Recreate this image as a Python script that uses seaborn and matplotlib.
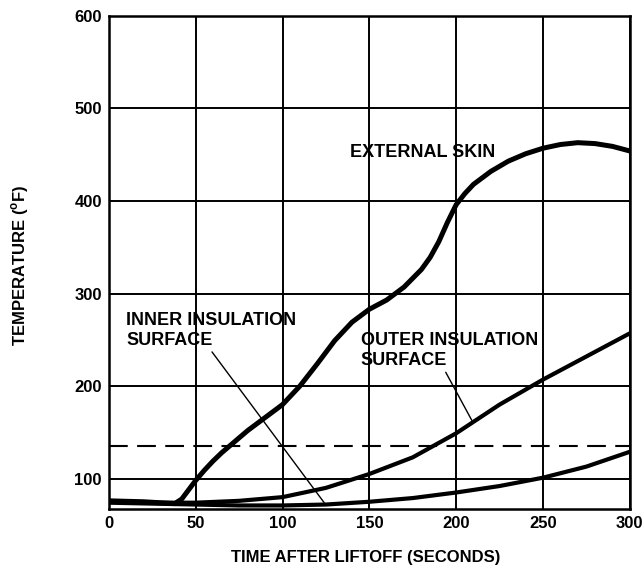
import pandas as pd
import matplotlib
matplotlib.use("Agg")
import matplotlib.pyplot as plt
import seaborn as sns

# %% dados
t_ext = [0, 20, 38, 42, 46, 50, 55, 60, 65, 70, 80, 90, 100, 110, 120, 130, 140, 150,
         160, 170, 180, 185, 190, 195, 200, 205, 210, 220, 230, 240, 250, 260, 270,
         280, 290, 300]
temp_ext = [76, 75, 73, 78, 88, 98, 109, 119, 128, 136, 152, 166, 180, 200, 224, 249,
            269, 283, 293, 307, 326, 339, 356, 377, 396, 408, 418, 432, 443, 451, 457,
            461, 463, 462, 459, 454]

t_ins = [0, 25, 50, 75, 100, 125, 150, 175, 200, 225, 250, 275, 300]
temp_outer = [75, 74, 74, 76, 80, 90, 105, 123, 149, 180, 207, 232, 257]
temp_inner = [74, 73, 72, 71, 71, 72, 75, 79, 85, 92, 101, 113, 129]

limit_temp = 135
x_ticks = [0, 50, 100, 150, 200, 250, 300]
y_ticks = [100, 200, 300, 400, 500, 600]

df_ext = pd.DataFrame({"t": t_ext, "temp": temp_ext})
df_ins = pd.DataFrame({"t": t_ins, "outer": temp_outer, "inner": temp_inner})

# %%
sns.set_style("white")
plt.rcParams["font.family"] = ["Liberation Sans", "DejaVu Sans"]
plt.rcParams["font.weight"] = "bold"
plt.rcParams["text.color"] = "black"
plt.rcParams["axes.labelcolor"] = "black"
plt.rcParams["xtick.color"] = "black"
plt.rcParams["ytick.color"] = "black"

fig = plt.figure(figsize=(6.44, 5.67), dpi=100)
ax = fig.add_axes([0.169, 0.102, 0.809, 0.870])

sns.lineplot(data=df_ext, x="t", y="temp", color="black", lw=3.6, ax=ax)
sns.lineplot(data=df_ins, x="t", y="outer", color="black", lw=3.0, ax=ax)
sns.lineplot(data=df_ins, x="t", y="inner", color="black", lw=3.0, ax=ax)
ax.axhline(limit_temp, color="black", lw=1.5, dashes=(9, 4.5))

ax.set_xlim(0, 300)
ax.set_ylim(67, 600)
ax.set_xticks(x_ticks)
ax.set_yticks(y_ticks)
ax.tick_params(length=0, labelsize=12, pad=5)
for lab in ax.get_xticklabels() + ax.get_yticklabels():
    lab.set_fontweight("bold")
ax.grid(True, color="black", lw=1.4)
for s in ax.spines.values():
    s.set_color("black")
    s.set_linewidth(1.8)

ax.set_xlabel("TIME AFTER LIFTOFF (SECONDS)", fontsize=12, fontweight="bold")
ax.set_ylabel("TEMPERATURE ($^{\\mathregular{o}}$F)", fontsize=12, fontweight="bold")
ax.xaxis.set_label_coords(0.493, -0.083)
ax.yaxis.set_label_coords(-0.15, 0.495)

# rótulos das curvas
ax.text(139, 452, "EXTERNAL SKIN", fontsize=13, fontweight="bold", va="center")
ax.annotate("INNER INSULATION\nSURFACE", xy=(124, 74), xytext=(10, 280),
            fontsize=13, fontweight="bold", va="top", linespacing=1.2,
            arrowprops=dict(arrowstyle="-", color="black", lw=1.0,
                            shrinkA=0, shrinkB=0, relpos=(0.49, 0)))
ax.annotate("OUTER INSULATION\nSURFACE", xy=(209, 163), xytext=(145, 258),
            fontsize=13, fontweight="bold", va="top", linespacing=1.2,
            arrowprops=dict(arrowstyle="-", color="black", lw=1.0,
                            shrinkA=0, shrinkB=0, relpos=(0.47, 0)))

fig.savefig("out.png", dpi=100)
